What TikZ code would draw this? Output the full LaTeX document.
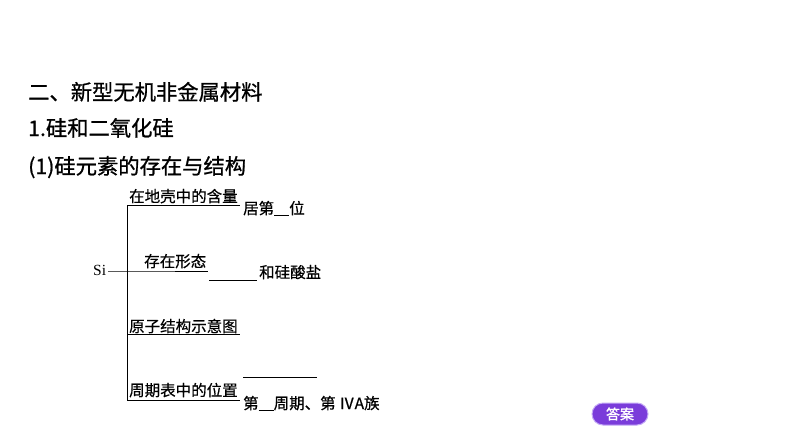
\documentclass[tikz,border=0pt]{standalone}
\usepackage{fontspec}
\usepackage{xcolor}
\newfontfamily\cjk[FakeBold=0.5]{Noto Sans CJK SC}
\newfontfamily\cjkhead[FakeBold=0.9]{Noto Sans CJK SC}
\newfontfamily\cjkbtn[FakeBold=1.2]{Noto Sans CJK SC}
\setmainfont{Liberation Serif}
\definecolor{btnviolet}{RGB}{122,60,218}
\definecolor{btnedge}{RGB}{196,170,246}
\newcommand{\blankline}[1]{\rule[-1.5pt]{#1}{0.7pt}}

\begin{document}
\begin{tikzpicture}[x=1pt, y=-1pt]
        \tikzstyle{heading} = [anchor=base west, inner sep=0pt, font=\cjkhead\fontsize{21.3}{21.3}\selectfont]
        \tikzstyle{lbl} = [anchor=base west, inner sep=0pt, font=\cjk\fontsize{15.5}{15.5}\selectfont]
        \tikzstyle{treeline} = [black, line width=0.8pt]
        \tikzstyle{answerbtn} = [rectangle, rounded corners=11pt, draw=btnedge, line width=1pt, fill=btnviolet, text=white, minimum width=56pt, minimum height=22pt, inner sep=0pt, font=\cjkbtn\fontsize{14}{14}\selectfont]
        \useasboundingbox[fill=white] (0,0) rectangle (794,447);
        % headings
        \node[heading] (h1) at (28,100) {二、新型无机非金属材料};
        \node[heading] (h2) at (28,136) {1.硅和二氧化硅};
        \node[heading] (h3) at (28,174) {(1)硅元素的存在与结构};
        % tree
        \node[anchor=base west, inner sep=0pt, font=\fontsize{15.5}{15.5}\selectfont] (si) at (93,275) {Si};
        \coordinate (top) at (127,205);
        \coordinate (bot) at (127,400);
        \coordinate (fork) at (143,271);
        \coordinate (u1) at (240,205);
        \coordinate (u2) at (208,271);
        \coordinate (u3a) at (127,334);
        \coordinate (u3) at (240,334);
        \coordinate (u4) at (240,400);
        \coordinate (b2a) at (209,280);
        \coordinate (b2) at (257,280);
        \coordinate (b4a) at (243,377);
        \coordinate (b4) at (317,377);
        \node[lbl] (amount) at (129,202) {在地壳中的含量};
        \node[lbl] (rank) at (243,214) {居第\blankline{15pt}位};
        \node[lbl] (form) at (144,267) {存在形态};
        \node[lbl] (salt) at (259,278) {和硅酸盐};
        \node[lbl] (atom) at (129,332) {原子结构示意图};
        \node[lbl] (place) at (129,396) {周期表中的位置};
        \node[lbl] (period) at (243,409) {第\blankline{15pt}周期、第 ⅣA族};
        \draw[treeline] (top) -- (bot);
        \draw[treeline] (top) -- (u1);
        \draw[treeline] (si.east |- fork) ++(2,0) -- (fork) -- (u2);
        \draw[treeline] (u3a) -- (u3);
        \draw[treeline] (bot) -- (u4);
        \draw[treeline] (b2a) -- (b2);
        \draw[treeline] (b4a) -- (b4);
        % answer button
        \node[answerbtn] (ans) at (620,414) {答案};
    \end{tikzpicture}
\end{document}
